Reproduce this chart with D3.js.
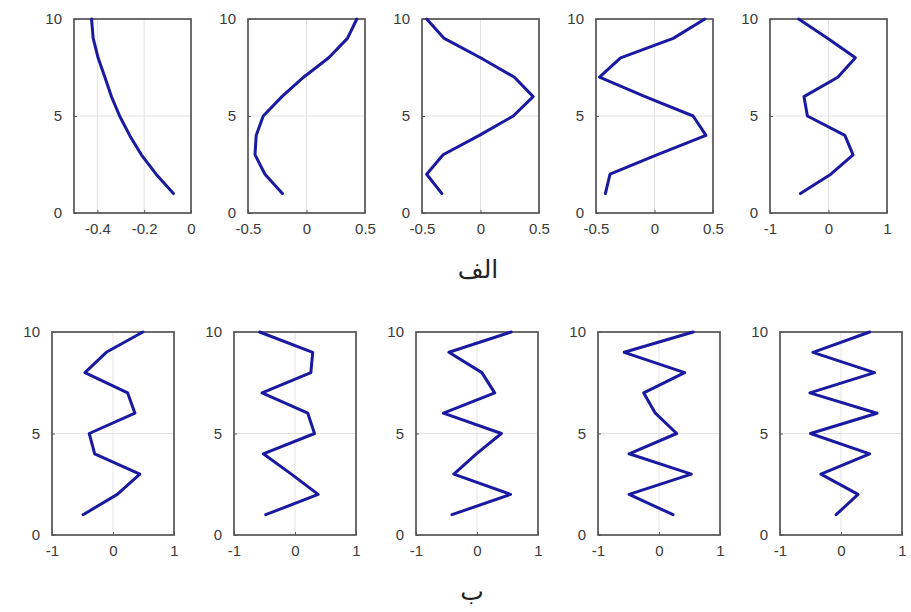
<!DOCTYPE html>
<html>
<head>
<meta charset="utf-8">
<script src="https://cdn.jsdelivr.net/npm/d3@7"></script>
<style>
  body { margin: 0; background: #fff; }
  svg { display: block; }
</style>
</head>
<body>
<svg width="911" height="612"></svg>
<script>
"use strict";

// story levels (y axis) and the mode shape of each panel (x values, level 1..10)
const levels = [1, 2, 3, 4, 5, 6, 7, 8, 9, 10];

const mode1 = [-0.075, -0.149, -0.212, -0.262, -0.305, -0.34, -0.368, -0.397, -0.418, -0.425];
const mode2 = [-0.206, -0.355, -0.44, -0.43, -0.37, -0.21, -0.025, 0.19, 0.35, 0.43];
const mode3 = [-0.33, -0.46, -0.32, -0.01, 0.28, 0.45, 0.29, 0.0, -0.31, -0.46];
const mode4 = [-0.42, -0.38, 0.02, 0.44, 0.33, -0.08, -0.47, -0.29, 0.16, 0.43];
const mode5 = [-0.48, 0.04, 0.42, 0.28, -0.36, -0.42, 0.16, 0.46, -0.01, -0.51];
const mode6 = [-0.49, 0.07, 0.44, -0.3, -0.39, 0.36, 0.24, -0.46, -0.11, 0.49];
const mode7 = [-0.48, 0.38, -0.06, -0.52, 0.32, 0.21, -0.54, 0.26, 0.29, -0.58];
const mode8 = [-0.41, 0.55, -0.38, -0.01, 0.4, -0.55, 0.29, 0.08, -0.46, 0.56];
const mode9 = [0.23, -0.49, 0.53, -0.49, 0.29, -0.06, -0.25, 0.42, -0.57, 0.56];
const mode10 = [-0.08, 0.28, -0.33, 0.47, -0.5, 0.59, -0.51, 0.55, -0.46, 0.47];

// x ranges and tick labels
const domainFirst = [-0.5, 0];
const domainHalf = [-0.5, 0.5];
const domainOne = [-1, 1];
const ticksFirst = [-0.4, -0.2, 0];
const ticksHalf = [-0.5, 0, 0.5];
const ticksOne = [-1, 0, 1];
const yTicks = [0, 5, 10];

const captionTop = "الف";
const captionBottom = "ب";

/////////////////////////////////////////////
// panel layout
/////////////////////////////////////////////
const svg = d3.select("svg");

const panels = [
  { data: mode1, domain: domainFirst, ticks: ticksFirst, row: 0, col: 0 },
  { data: mode2, domain: domainHalf, ticks: ticksHalf, row: 0, col: 1 },
  { data: mode3, domain: domainHalf, ticks: ticksHalf, row: 0, col: 2 },
  { data: mode4, domain: domainHalf, ticks: ticksHalf, row: 0, col: 3 },
  { data: mode5, domain: domainOne, ticks: ticksOne, row: 0, col: 4 },
  { data: mode6, domain: domainOne, ticks: ticksOne, row: 1, col: 0 },
  { data: mode7, domain: domainOne, ticks: ticksOne, row: 1, col: 1 },
  { data: mode8, domain: domainOne, ticks: ticksOne, row: 1, col: 2 },
  { data: mode9, domain: domainOne, ticks: ticksOne, row: 1, col: 3 },
  { data: mode10, domain: domainOne, ticks: ticksOne, row: 1, col: 4 },
];

const rows = [
  { left: 74, step: 174, width: 117, top: 19, bottom: 213 },
  { left: 52, step: 182, width: 122, top: 332, bottom: 535 },
];

const lineColor = "#1a1aa0";
const fmt = (d) => String(d);

panels.forEach((p) => {
  const r = rows[p.row];
  const x0 = r.left + p.col * r.step;

  const x = d3.scaleLinear().domain(p.domain).range([x0, x0 + r.width]);
  const y = d3.scaleLinear().domain([0, 10]).range([r.bottom, r.top]);

  const g = svg.append("g");

  // grid
  g.selectAll(".gx")
    .data(p.ticks)
    .enter()
    .append("line")
    .attr("x1", (d) => x(d))
    .attr("x2", (d) => x(d))
    .attr("y1", r.top)
    .attr("y2", r.bottom)
    .attr("stroke", "#e3e3e3")
    .attr("stroke-width", 1);
  g.selectAll(".gy")
    .data(yTicks)
    .enter()
    .append("line")
    .attr("x1", x0)
    .attr("x2", x0 + r.width)
    .attr("y1", (d) => y(d))
    .attr("y2", (d) => y(d))
    .attr("stroke", "#e3e3e3")
    .attr("stroke-width", 1);

  // axes, ticks pointing inside like matlab
  const ax = d3.axisBottom(x).tickValues(p.ticks).tickFormat(fmt).tickSizeInner(-3).tickSizeOuter(0).tickPadding(10);
  const ay = d3.axisLeft(y).tickValues(yTicks).tickFormat(fmt).tickSizeInner(-3).tickSizeOuter(0).tickPadding(12);

  g.append("g")
    .attr("transform", `translate(0,${r.bottom})`)
    .call(ax)
    .call((s) => s.select(".domain").remove());
  g.append("g")
    .attr("transform", `translate(${x0},0)`)
    .call(ay)
    .call((s) => s.select(".domain").remove());

  g.selectAll(".tick line").attr("stroke", "#555").attr("stroke-width", 1);
  g.selectAll(".tick text")
    .attr("fill", "#3a3a3a")
    .style("font-family", "'Liberation Sans', Arial, sans-serif")
    .style("font-size", "15px");

  // box
  g.append("rect")
    .attr("x", x0)
    .attr("y", r.top)
    .attr("width", r.width)
    .attr("height", r.bottom - r.top)
    .attr("fill", "none")
    .attr("stroke", "#555")
    .attr("stroke-width", 1.7);

  // the mode shape
  const line = d3
    .line()
    .x((d) => x(d[0]))
    .y((d) => y(d[1]));

  g.append("path")
    .datum(p.data.map((v, i) => [v, levels[i]]))
    .attr("d", line)
    .attr("fill", "none")
    .attr("stroke", lineColor)
    .attr("stroke-width", 3)
    .attr("stroke-linejoin", "round")
    .attr("stroke-linecap", "round");
});

/////////////////////////////////////////////
// captions under each row
/////////////////////////////////////////////
svg.append("text")
  .attr("x", 478)
  .attr("y", 278)
  .attr("text-anchor", "middle")
  .attr("direction", "rtl")
  .style("font-family", "'Noto Sans', 'DejaVu Sans', sans-serif")
  .style("font-size", "25px")
  .attr("fill", "#222")
  .text(captionTop);

svg.append("text")
  .attr("x", 472)
  .attr("y", 600)
  .attr("text-anchor", "middle")
  .attr("direction", "rtl")
  .style("font-family", "'Noto Sans', 'DejaVu Sans', sans-serif")
  .style("font-size", "25px")
  .attr("fill", "#222")
  .text(captionBottom);
</script>
</body>
</html>
